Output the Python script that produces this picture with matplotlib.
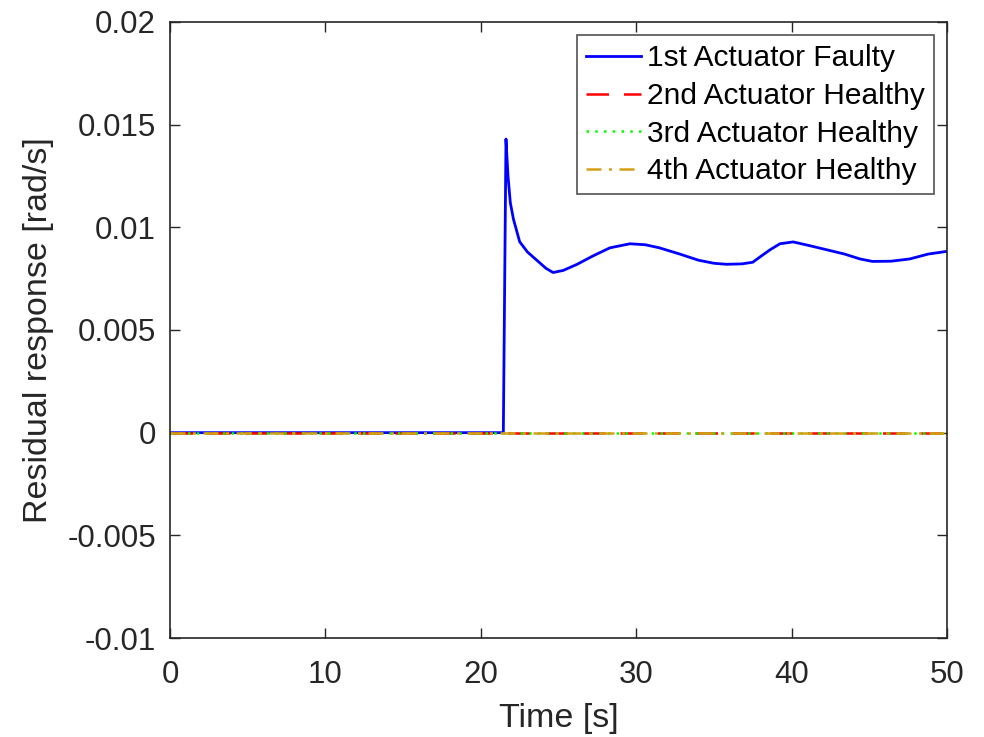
import matplotlib
matplotlib.use("Agg")
import matplotlib.pyplot as plt

plt.rcParams['font.family'] = ['Liberation Sans', 'DejaVu Sans']

# Actuator 1 residual (faulty)
t1 = [0, 21.45, 21.62, 21.75, 21.9, 22.1, 22.5, 23.0, 23.6, 24.2, 24.65, 25.3, 26.2,
      27.2, 28.3, 29.6, 30.6, 31.5, 32.8, 34.0, 35.0, 35.8, 36.8, 37.5, 37.97, 38.6,
      39.25, 40.1, 41.2, 42.3, 43.4, 44.4, 45.2, 46.4, 47.6, 48.8, 50.0]
r1 = [0, 0, 0.0143, 0.0125, 0.0112, 0.0104, 0.0093, 0.0088, 0.0084, 0.0080, 0.0078,
      0.0079, 0.0082, 0.0086, 0.0090, 0.0092, 0.00915, 0.0090, 0.0087, 0.0084, 0.00825,
      0.0082, 0.00822, 0.0083, 0.00856, 0.0089, 0.0092, 0.00929, 0.0091, 0.0089, 0.0087,
      0.00846, 0.00834, 0.00835, 0.00846, 0.0087, 0.00883]
# Healthy actuators residuals
t_h = [0, 50]
r2 = [0, 0]
r3 = [0, 0]
r4 = [0, 0]

labels = ['1st Actuator Faulty', '2nd Actuator Healthy', '3rd Actuator Healthy', '4th Actuator Healthy']

fig = plt.figure(figsize=(9.84, 7.37), dpi=100)
ax = fig.add_axes([170/984, 1 - 638/737, (947-170)/984, (638-22)/737])

ax.plot(t1, r1, color='#0000ff', lw=2.0, ls='-', label=labels[0])
ax.plot(t_h, r2, color='#ff0000', lw=1.8, ls=(0, (9, 6)), label=labels[1])
ax.plot(t_h, r3, color='#00ff00', lw=1.8, ls=(0, (1, 2.5)), label=labels[2])
ax.plot(t_h, r4, color='#d4a017', lw=1.8, ls=(0, (6, 3, 1.2, 3)), label=labels[3])

ax.set_xlim(0, 50)
ax.set_ylim(-0.01, 0.02)
ax.set_xticks([0, 10, 20, 30, 40, 50])
ax.set_yticks([-0.01, -0.005, 0, 0.005, 0.01, 0.015, 0.02])
ax.set_yticklabels(['-0.01', '-0.005', '0', '0.005', '0.01', '0.015', '0.02'])

for s in ax.spines.values():
    s.set_color('#262626')
    s.set_linewidth(1.2)
ax.tick_params(direction='in', top=True, right=True, length=7, width=1.0,
               colors='#262626', labelsize=22.5, labelcolor='#262626')
ax.tick_params(axis='x', pad=16)
ax.tick_params(axis='y', pad=10)

ax.set_xlabel('Time [s]', fontsize=24.5, color='#262626', labelpad=9)
ax.set_ylabel('Residual response [rad/s]', fontsize=24.5, color='#262626', labelpad=10)

leg = ax.legend(loc='upper right', fontsize=21.5, frameon=True, fancybox=False,
                edgecolor='#262626', borderaxespad=0.45, handlelength=1.85,
                handletextpad=0.2, labelspacing=0.32, borderpad=0.3)
leg.get_frame().set_linewidth(1.2)

fig.savefig('out.png', dpi=100)
